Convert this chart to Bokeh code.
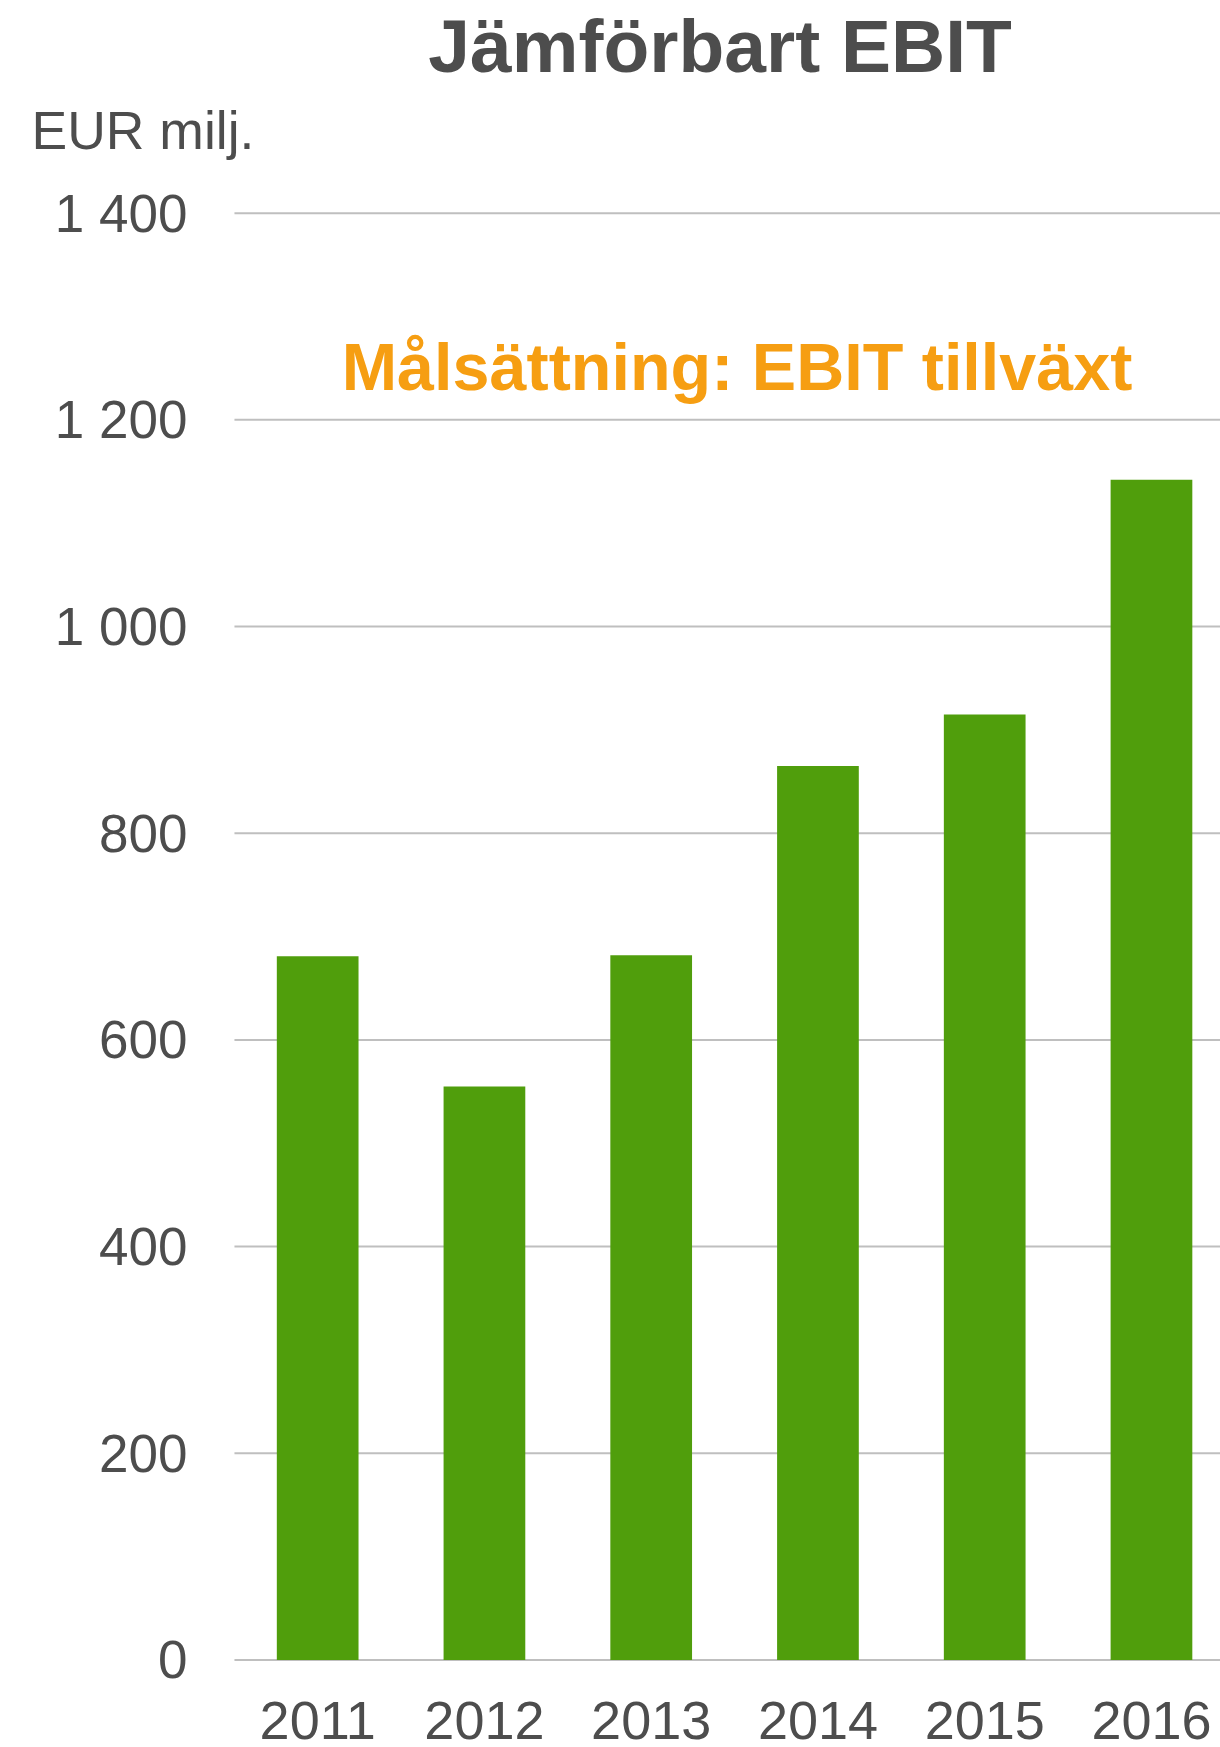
from bokeh.plotting import figure
from bokeh.models import (ColumnDataSource, FixedTicker, Range1d, Label)
from bokeh.embed import file_html
from bokeh.resources import INLINE

# ---- data ----
years = ["2011", "2012", "2013", "2014", "2015", "2016"]
ebit = [681, 555, 682, 865, 915, 1142]
y_ticks = [0, 200, 400, 600, 800, 1000, 1200, 1400]
y_tick_labels = ["0", "200", "400", "600", "800", "1 000", "1 200", "1 400"]
title_text = "Jämförbart EBIT"
unit_text = "EUR milj."
goal_text = "Målsättning: EBIT tillväxt"

FONT = "Liberation Sans"
TXT = "#4D4D4D"

X_START, X_END = -0.499, 5.414   # plotting area (category units)

xs = list(range(len(years)))
src = ColumnDataSource(dict(x=xs, top=ebit, year=years))
grid_src = ColumnDataSource(dict(x0=[X_START] * len(y_ticks),
                                 x1=[X_END] * len(y_ticks),
                                 y=y_ticks))

p = figure(width=1220, height=1747, output_backend="svg", toolbar_location=None,
           x_range=Range1d(-1.902, X_END), y_range=Range1d(-84.7, 1605.8),
           min_border_left=0, min_border_right=0, min_border_top=0,
           min_border_bottom=0, outline_line_color=None,
           background_fill_color="white", border_fill_color="white")

# horizontal gridlines over the plotting area only
p.segment(x0="x0", x1="x1", y0="y", y1="y", source=grid_src,
          line_color="#BFBFBF", line_width=2, level="underlay")

p.vbar(x="x", top="top", bottom=0, width=0.49, source=src,
       fill_color="#509E0C", line_color=None)

# y axis (fixed at the left edge of the plotting area)
ya = p.yaxis[0]
ya.ticker = FixedTicker(ticks=y_ticks)
ya.major_label_overrides = {t: l for t, l in zip(y_ticks, y_tick_labels)}
ya.fixed_location = X_START
ya.axis_line_color = None
ya.major_tick_line_color = None
ya.minor_tick_line_color = None
ya.major_tick_out = 0
ya.major_tick_in = 0
ya.major_label_standoff = 47
ya.major_label_text_font = FONT
ya.major_label_text_font_size = "53px"
ya.major_label_text_color = TXT

# x axis (fixed at zero)
xa = p.xaxis[0]
xa.ticker = FixedTicker(ticks=xs)
xa.major_label_overrides = {i: y for i, y in zip(xs, years)}
xa.fixed_location = 0
xa.axis_line_color = None
xa.major_tick_line_color = None
xa.minor_tick_line_color = None
xa.major_tick_out = 0
xa.major_tick_in = 0
xa.major_label_standoff = 42
xa.major_label_text_font = FONT
xa.major_label_text_font_size = "54px"
xa.major_label_text_color = TXT

p.xgrid.grid_line_color = None
p.ygrid.grid_line_color = None

p.add_layout(Label(x=2.413, y=1561.4, text=title_text, text_align="center",
                   text_baseline="alphabetic", text_font=FONT,
                   text_font_size="75px", text_font_style="bold",
                   text_color=TXT))
p.add_layout(Label(x=-1.716, y=1480.0, text=unit_text, text_align="left",
                   text_baseline="alphabetic", text_font=FONT,
                   text_font_size="53.5px", text_color=TXT))
p.add_layout(Label(x=2.515, y=1251.0, text=goal_text, text_align="center",
                   text_baseline="alphabetic", text_font=FONT,
                   text_font_size="66.5px", text_font_style="bold",
                   text_color="#F69E12"))

open("out.html", "w").write(file_html(p, INLINE))
